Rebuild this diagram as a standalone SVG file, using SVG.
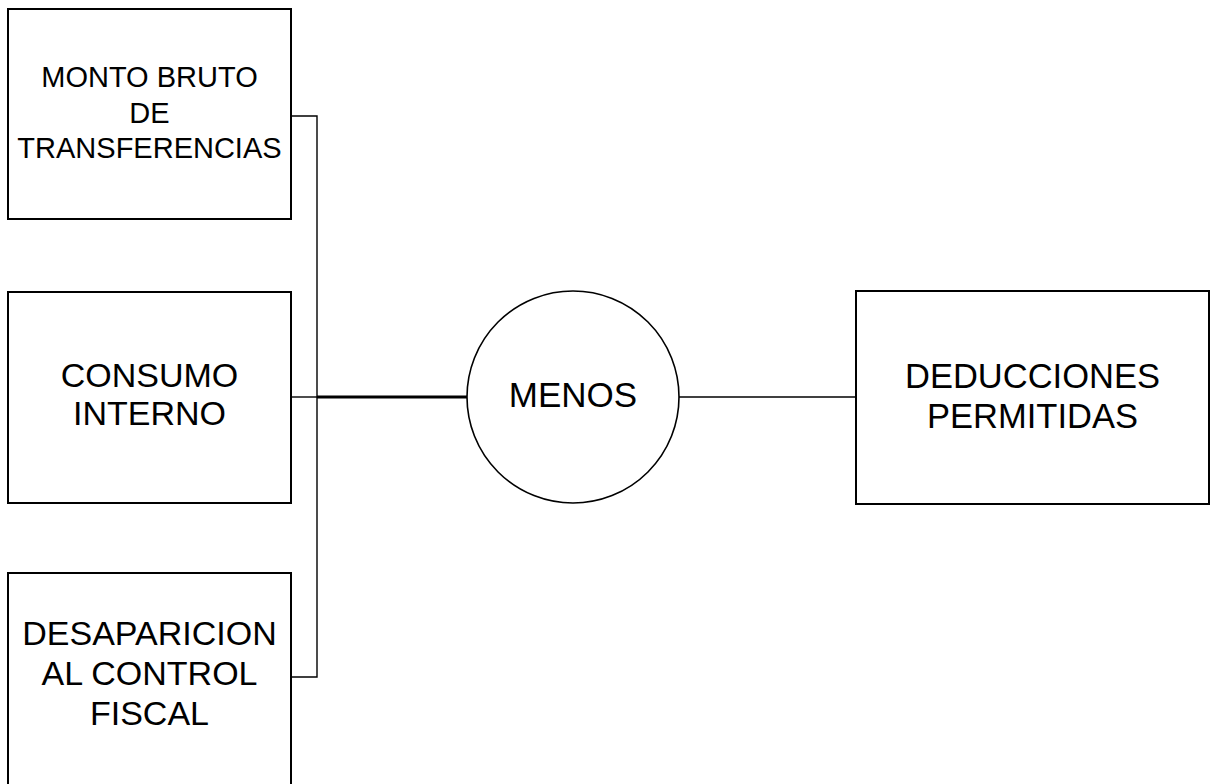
<svg xmlns="http://www.w3.org/2000/svg" width="1212" height="784" viewBox="0 0 1212 784">
<style>
.box{fill:#fff;stroke:#000;stroke-width:2}
.circ{fill:#fff;stroke:#000;stroke-width:1.6}
.t{font-family:"Liberation Sans",Arial,sans-serif;fill:#000;text-anchor:middle}
.c{fill:none;stroke:#000;stroke-width:1.4}
.ck{fill:none;stroke:#000;stroke-width:3}
</style>
<rect width="1212" height="784" fill="#fff"/>
<g id="connectors">
<polyline class="c" points="291,116 317,116 317,677 291,677"/>
<line class="c" x1="291" y1="397" x2="317" y2="397"/>
<line class="ck" x1="317" y1="397" x2="467" y2="397"/>
<line class="c" x1="679" y1="397" x2="856" y2="397"/>
</g>
<g id="monto">
<rect class="box" x="8" y="9" width="283" height="210"/>
<text class="t" font-size="29" x="149.5"><tspan x="149.5" y="87">MONTO BRUTO</tspan><tspan x="149.5" y="123">DE</tspan><tspan x="149.5" y="158">TRANSFERENCIAS</tspan></text>
</g>
<g id="consumo">
<rect class="box" x="8" y="292" width="283" height="211"/>
<text class="t" font-size="34" x="149.5"><tspan x="149.5" y="387">CONSUMO</tspan><tspan x="149.5" y="425">INTERNO</tspan></text>
</g>
<g id="desaparicion">
<rect class="box" x="8" y="573" width="283" height="216"/>
<text class="t" font-size="34" x="149.5"><tspan x="149.5" y="645">DESAPARICION</tspan><tspan x="149.5" y="685">AL CONTROL</tspan><tspan x="149.5" y="725">FISCAL</tspan></text>
</g>
<g id="menos">
<circle class="circ" cx="573" cy="397" r="106"/>
<text class="t" font-size="35" x="573" y="407">MENOS</text>
</g>
<g id="deducciones">
<rect class="box" x="856" y="291" width="353" height="213"/>
<text class="t" font-size="34.5" x="1032.5"><tspan x="1032.5" y="388">DEDUCCIONES</tspan><tspan x="1032.5" y="428">PERMITIDAS</tspan></text>
</g>
</svg>
